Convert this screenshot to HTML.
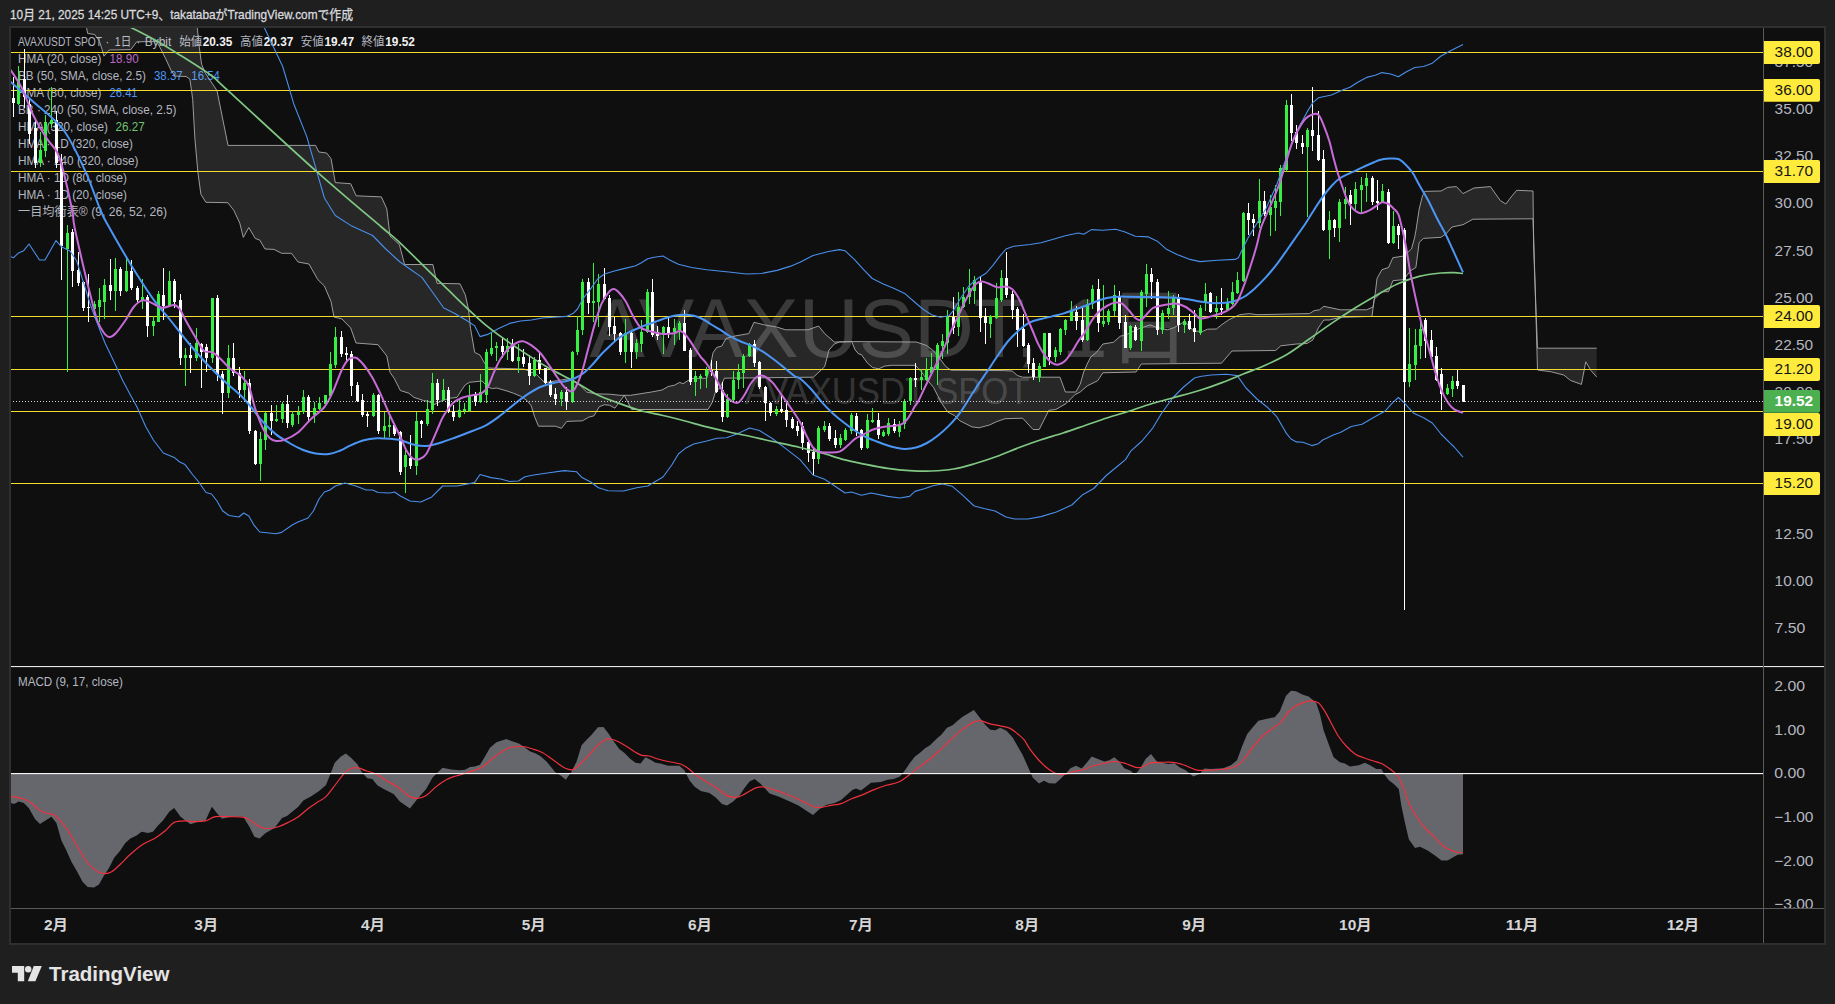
<!DOCTYPE html>
<html lang="ja"><head><meta charset="utf-8"><title>AVAXUSDT SPOT 1D chart</title>
<style>
html,body{margin:0;padding:0;background:#1f1f1f;}
body{width:1835px;height:1004px;overflow:hidden;font-family:"Liberation Sans", "Noto Sans CJK JP", sans-serif;}
svg{display:block;position:absolute;left:0;top:0;}
text{font-family:"Liberation Sans", "Noto Sans CJK JP", sans-serif;}
.ax{font-size:14.6px;fill:#b4b7c0;}
.lg{font-size:12px;fill:#b4b7c0;}
.tm{font-size:15px;font-weight:bold;fill:#d6d6d6;}
.yl{font-size:14px;fill:#141414;}
</style></head><body>
<svg width="1835" height="1004" viewBox="0 0 1835 1004">
<defs>
<clipPath id="cpMain"><rect x="11" y="28" width="1753" height="638"/></clipPath>
<clipPath id="cpMacd"><rect x="11" y="667" width="1753" height="241"/></clipPath>
<clipPath id="cpAxis"><rect x="1764" y="28" width="61" height="880"/></clipPath>
</defs>
<rect x="0" y="0" width="1835" height="1004" fill="#1f1f1f"/>
<rect x="9" y="26" width="1817" height="919" fill="#2f2f2f"/>
<rect x="11" y="28" width="1813" height="915" fill="#0f0f0f"/>
<text x="10" y="19" font-size="13" fill="#d8d9de" stroke="#d8d9de" stroke-width="0.3" textLength="343" lengthAdjust="spacingAndGlyphs">10月 21, 2025 14:25 UTC+9、takatabaがTradingView.comで作成</text>
<g clip-path="url(#cpMain)">
<text x="890.1" y="356.5" font-size="83" fill="#ffffff" fill-opacity="0.18" text-anchor="middle" textLength="601" lengthAdjust="spacingAndGlyphs">AVAXUSDT, 1日</text>
<text x="887" y="403.5" font-size="36" fill="#ffffff" fill-opacity="0.18" text-anchor="middle" textLength="285" lengthAdjust="spacingAndGlyphs">AVAXUSDT SPOT</text>
<text class="lg" x="18" y="45.5" textLength="84" lengthAdjust="spacingAndGlyphs">AVAXUSDT SPOT</text>
<text class="lg" x="105.6" y="45.5" textLength="3.8" lengthAdjust="spacingAndGlyphs">·</text>
<text class="lg" x="114.8" y="45.5" textLength="16.4" lengthAdjust="spacingAndGlyphs">1日</text>
<text class="lg" x="136.4" y="45.5" textLength="3.8" lengthAdjust="spacingAndGlyphs">·</text>
<text class="lg" x="144.8" y="45.5" textLength="26.5" lengthAdjust="spacingAndGlyphs">Bybit</text>
<text class="lg" x="179.3" y="45.5" textLength="23" lengthAdjust="spacingAndGlyphs">始値</text>
<text class="lg" x="202.7" y="45.5" textLength="29.6" lengthAdjust="spacingAndGlyphs" style="fill:#f2f2f2" font-weight="bold">20.35</text>
<text class="lg" x="240" y="45.5" textLength="23" lengthAdjust="spacingAndGlyphs">高値</text>
<text class="lg" x="263.7" y="45.5" textLength="29.6" lengthAdjust="spacingAndGlyphs" style="fill:#f2f2f2" font-weight="bold">20.37</text>
<text class="lg" x="300.7" y="45.5" textLength="23" lengthAdjust="spacingAndGlyphs">安値</text>
<text class="lg" x="324.4" y="45.5" textLength="29.6" lengthAdjust="spacingAndGlyphs" style="fill:#f2f2f2" font-weight="bold">19.47</text>
<text class="lg" x="361.6" y="45.5" textLength="23" lengthAdjust="spacingAndGlyphs">終値</text>
<text class="lg" x="385.3" y="45.5" textLength="29.6" lengthAdjust="spacingAndGlyphs" style="fill:#f2f2f2" font-weight="bold">19.52</text>
<text class="lg" x="18" y="63" textLength="83.5" lengthAdjust="spacingAndGlyphs">HMA (20, close)</text>
<text class="lg" x="109.6" y="63" textLength="29.1" lengthAdjust="spacingAndGlyphs" style="fill:#ba68c8">18.90</text>
<text class="lg" x="18" y="80" textLength="127.8" lengthAdjust="spacingAndGlyphs">BB (50, SMA, close, 2.5)</text>
<text class="lg" x="154" y="80" textLength="28.6" lengthAdjust="spacingAndGlyphs" style="fill:#4b95f4">38.37</text>
<text class="lg" x="191.3" y="80" textLength="28.5" lengthAdjust="spacingAndGlyphs" style="fill:#4b95f4">16.54</text>
<text class="lg" x="18" y="97" textLength="83.5" lengthAdjust="spacingAndGlyphs">HMA (80, close)</text>
<text class="lg" x="109.6" y="97" textLength="28" lengthAdjust="spacingAndGlyphs" style="fill:#4b95f4">26.41</text>
<text class="lg" x="18" y="114" textLength="158.4" lengthAdjust="spacingAndGlyphs">BB · 240 (50, SMA, close, 2.5)</text>
<text class="lg" x="18" y="131" textLength="89.8" lengthAdjust="spacingAndGlyphs">HMA (320, close)</text>
<text class="lg" x="115.5" y="131" textLength="29.2" lengthAdjust="spacingAndGlyphs" style="fill:#70c274">26.27</text>
<text class="lg" x="18" y="148" textLength="115" lengthAdjust="spacingAndGlyphs">HMA · 1D (320, close)</text>
<text class="lg" x="18" y="165" textLength="120.5" lengthAdjust="spacingAndGlyphs">HMA · 240 (320, close)</text>
<text class="lg" x="18" y="182" textLength="109" lengthAdjust="spacingAndGlyphs">HMA · 1D (80, close)</text>
<text class="lg" x="18" y="199" textLength="109" lengthAdjust="spacingAndGlyphs">HMA · 1D (20, close)</text>
<text class="lg" x="18" y="216" textLength="149" lengthAdjust="spacingAndGlyphs">一目均衡表® (9, 26, 52, 26)</text>
<polygon points="197.2,27 199.4,48 201.6,64.3 205.3,73.2 217,90.6 228,145.4 315.6,145.4 318.9,152 326.6,153 331,158.5 335.3,182.6 350.7,183.7 356.2,195.8 381.4,196.9 386.8,208.9 390,236 399.4,244.6 404.6,264.5 432.9,264.5 437,283.3 460,283.8 465.3,294.9 468.5,309.5 470.5,328.3 474.7,352.4 480,355 485,363.9 488.3,368 524,369 536.4,374.4 544.8,382.7 557.4,380.6 570,378.5 578.3,383.8 586.7,392 595,393.8 609.7,394.2 620,395.3 630.6,395.3 651.5,392 662,390 668.2,386.5 674.5,385.2 679.7,382.3 682.9,383.8 691.3,378.5 706.8,378.2 710,367 711.3,361.5 713,352.8 716.6,347.6 721.8,346 726,338.5 734.9,336 748.8,333.6 754,322.3 764.5,324.9 776.7,327 785.5,329.8 808,329.8 818.6,326 824.7,333.6 834.3,342 851.7,341.6 916.3,342 926.7,345.5 933.7,351 940.7,359.8 945.9,366.7 951,370.2 1003.5,370.6 1012.2,371 1017.4,375.5 1022.7,377.2 1060,377.2 1065.4,392 1075.9,392 1080.2,384.2 1083.7,372 1087.2,364 1090.7,357 1096.8,352 1102.9,344 1113.4,342.3 1120.3,336.2 1125.6,335 1138,329 1150,324.9 1157,327.5 1167.4,329.8 1174.4,327.5 1184.9,321.4 1193.6,331 1202.3,331.5 1207.5,329.2 1216.4,329 1222,324.5 1228.5,320 1239.5,314.7 1249.3,313.6 1257,314.7 1309.6,313.6 1314,310.7 1319.5,309.8 1323.8,306.3 1340.3,309.8 1366.6,309.8 1373,307 1375.3,292.8 1377,278.5 1381.9,269.7 1388.5,267.5 1392.9,257.7 1403.8,256 1411.5,249 1414.5,238 1415.9,230.8 1419.2,209 1422.5,195.8 1424.7,191.4 1441,191 1447.7,187.4 1456.4,186.6 1463,193.6 1474,188 1490.4,186.6 1500.3,200.6 1505.8,204 1511.2,196.9 1516.7,190.3 1533,191 1533.6,247 1537.5,348.2 1596.7,348.2 1596.7,377 1591,370.6 1585.8,361.8 1581.4,384.4 1570.4,380.4 1563.8,375 1550.7,371.7 1537.5,370 1534,247 1533,218.8 1472.9,219.2 1463,224.7 1452,227 1446,233.8 1441,237.3 1423.6,238.4 1419.2,242.3 1415.9,267.5 1410.4,270.8 1403.8,279.6 1392.9,280.7 1388.5,291.7 1381.9,291.7 1374.2,299.3 1372,316.4 1340.3,317.3 1329.3,320 1323.8,320 1318.4,327.8 1312.9,339.9 1307,343.5 1296.5,344 1280.8,345.8 1275.6,350.5 1232,351 1221.5,363.2 1141.3,364 1136,372 1102.9,372.8 1097.7,380.7 1087.2,385.9 1080.2,392 1075,394.6 1066.3,403.4 1055.8,409.5 1048.8,410.3 1039.2,429.5 1033,429.5 1022.7,418.2 1005,418.7 996.5,421.7 989.5,425 979,427.8 972,426.9 959.9,420.8 954.6,415.6 947.6,412 940.7,401.6 933.7,387.7 925,377 921.5,372 915.4,365.3 891.8,365.3 884.9,366 878.8,368.8 872.7,367.6 867.4,363 861.3,354.5 858.7,354 855.2,350 851.7,341.6 839.5,342 834.3,344 829,350 824.7,366.7 813.4,377.2 724.4,378.2 720,388 715.6,391.4 712.3,402.3 708,409.4 631.6,409.5 624.3,395.3 614.9,408.2 609.6,405.3 604.4,404.7 599.2,406.8 594,415.8 588.7,417.2 582.5,420.8 566.8,421.4 561.5,428.3 555.3,426.2 538.5,426.2 534.4,416.2 531.2,405.7 527,400.5 520.8,396.3 513.4,393.2 507,391 496.7,388 492.5,388.6 488.3,387.3 482,381 469.5,382.3 465.3,384.8 461,391 457,397.4 448.6,398.4 440.2,401.5 433.9,404.7 428.7,401.5 423.5,400.5 414,397.4 408.8,393.2 400.3,390.5 394.3,378.5 390,372.3 386.8,356 378,344.7 356,343 350.7,328 342,319 334,317 331,301.5 324.4,286 317.8,279.6 309,264 298,262 291.5,253.3 281.6,253.3 274,249.4 265,249 259.7,240 255.3,238.5 248.8,227.5 243.3,237.4 239.8,223.2 233.8,210.3 227.8,202.7 205.9,202.3 200.9,194.3 197.9,172.4 194.9,138.6 192.7,99.7 191.3,88.6 189.8,79 186.1,76.5 175.1,76.1 171.4,71 165.5,58.4 160,47.4 156.6,41.5 136.7,41.8 130.8,49.6 109.1,50 104,56.2 102.1,49.6 99.5,41.5 94.7,34.5 87.7,33.4 86.3,27" fill="#ffffff" fill-opacity="0.10" stroke="none"/>
<path d="M197.2 27 L199.4 48 L201.6 64.3 L205.3 73.2 L217 90.6 L228 145.4 L315.6 145.4 L318.9 152 L326.6 153 L331 158.5 L335.3 182.6 L350.7 183.7 L356.2 195.8 L381.4 196.9 L386.8 208.9 L390 236 L399.4 244.6 L404.6 264.5 L432.9 264.5 L437 283.3 L460 283.8 L465.3 294.9 L468.5 309.5 L470.5 328.3 L474.7 352.4 L480 355 L485 363.9 L488.3 368 L524 369 L536.4 374.4 L544.8 382.7 L557.4 380.6 L570 378.5 L578.3 383.8 L586.7 392 L595 393.8 L609.7 394.2 L620 395.3 L630.6 395.3 L651.5 392 L662 390 L668.2 386.5 L674.5 385.2 L679.7 382.3 L682.9 383.8 L691.3 378.5 L706.8 378.2 L710 367 L711.3 361.5 L713 352.8 L716.6 347.6 L721.8 346 L726 338.5 L734.9 336 L748.8 333.6 L754 322.3 L764.5 324.9 L776.7 327 L785.5 329.8 L808 329.8 L818.6 326 L824.7 333.6 L834.3 342 L851.7 341.6 L916.3 342 L926.7 345.5 L933.7 351 L940.7 359.8 L945.9 366.7 L951 370.2 L1003.5 370.6 L1012.2 371 L1017.4 375.5 L1022.7 377.2 L1060 377.2 L1065.4 392 L1075.9 392 L1080.2 384.2 L1083.7 372 L1087.2 364 L1090.7 357 L1096.8 352 L1102.9 344 L1113.4 342.3 L1120.3 336.2 L1125.6 335 L1138 329 L1150 324.9 L1157 327.5 L1167.4 329.8 L1174.4 327.5 L1184.9 321.4 L1193.6 331 L1202.3 331.5 L1207.5 329.2 L1216.4 329 L1222 324.5 L1228.5 320 L1239.5 314.7 L1249.3 313.6 L1257 314.7 L1309.6 313.6 L1314 310.7 L1319.5 309.8 L1323.8 306.3 L1340.3 309.8 L1366.6 309.8 L1373 307 L1375.3 292.8 L1377 278.5 L1381.9 269.7 L1388.5 267.5 L1392.9 257.7 L1403.8 256 L1411.5 249 L1414.5 238 L1415.9 230.8 L1419.2 209 L1422.5 195.8 L1424.7 191.4 L1441 191 L1447.7 187.4 L1456.4 186.6 L1463 193.6 L1474 188 L1490.4 186.6 L1500.3 200.6 L1505.8 204 L1511.2 196.9 L1516.7 190.3 L1533 191 L1533.6 247 L1537.5 348.2 L1596.7 348.2" fill="none" stroke="#a8a8a8" stroke-opacity="0.9" stroke-width="1"/>
<path d="M86.3 27 L87.7 33.4 L94.7 34.5 L99.5 41.5 L102.1 49.6 L104 56.2 L109.1 50 L130.8 49.6 L136.7 41.8 L156.6 41.5 L160 47.4 L165.5 58.4 L171.4 71 L175.1 76.1 L186.1 76.5 L189.8 79 L191.3 88.6 L192.7 99.7 L194.9 138.6 L197.9 172.4 L200.9 194.3 L205.9 202.3 L227.8 202.7 L233.8 210.3 L239.8 223.2 L243.3 237.4 L248.8 227.5 L255.3 238.5 L259.7 240 L265 249 L274 249.4 L281.6 253.3 L291.5 253.3 L298 262 L309 264 L317.8 279.6 L324.4 286 L331 301.5 L334 317 L342 319 L350.7 328 L356 343 L378 344.7 L386.8 356 L390 372.3 L394.3 378.5 L400.3 390.5 L408.8 393.2 L414 397.4 L423.5 400.5 L428.7 401.5 L433.9 404.7 L440.2 401.5 L448.6 398.4 L457 397.4 L461 391 L465.3 384.8 L469.5 382.3 L482 381 L488.3 387.3 L492.5 388.6 L496.7 388 L507 391 L513.4 393.2 L520.8 396.3 L527 400.5 L531.2 405.7 L534.4 416.2 L538.5 426.2 L555.3 426.2 L561.5 428.3 L566.8 421.4 L582.5 420.8 L588.7 417.2 L594 415.8 L599.2 406.8 L604.4 404.7 L609.6 405.3 L614.9 408.2 L624.3 395.3 L631.6 409.5 L708 409.4 L712.3 402.3 L715.6 391.4 L720 388 L724.4 378.2 L813.4 377.2 L824.7 366.7 L829 350 L834.3 344 L839.5 342 L851.7 341.6 L855.2 350 L858.7 354 L861.3 354.5 L867.4 363 L872.7 367.6 L878.8 368.8 L884.9 366 L891.8 365.3 L915.4 365.3 L921.5 372 L925 377 L933.7 387.7 L940.7 401.6 L947.6 412 L954.6 415.6 L959.9 420.8 L972 426.9 L979 427.8 L989.5 425 L996.5 421.7 L1005 418.7 L1022.7 418.2 L1033 429.5 L1039.2 429.5 L1048.8 410.3 L1055.8 409.5 L1066.3 403.4 L1075 394.6 L1080.2 392 L1087.2 385.9 L1097.7 380.7 L1102.9 372.8 L1136 372 L1141.3 364 L1221.5 363.2 L1232 351 L1275.6 350.5 L1280.8 345.8 L1296.5 344 L1307 343.5 L1312.9 339.9 L1318.4 327.8 L1323.8 320 L1329.3 320 L1340.3 317.3 L1372 316.4 L1374.2 299.3 L1381.9 291.7 L1388.5 291.7 L1392.9 280.7 L1403.8 279.6 L1410.4 270.8 L1415.9 267.5 L1419.2 242.3 L1423.6 238.4 L1441 237.3 L1446 233.8 L1452 227 L1463 224.7 L1472.9 219.2 L1533 218.8 L1534 247 L1537.5 370 L1550.7 371.7 L1563.8 375 L1570.4 380.4 L1581.4 384.4 L1585.8 361.8 L1591 370.6 L1596.7 377" fill="none" stroke="#a8a8a8" stroke-opacity="0.9" stroke-width="1"/>
<rect x="11" y="52" width="1753" height="1" fill="#f3dc2e"/>
<rect x="11" y="90" width="1753" height="1" fill="#f3dc2e"/>
<rect x="11" y="171" width="1753" height="1" fill="#f3dc2e"/>
<rect x="11" y="316" width="1753" height="1" fill="#f3dc2e"/>
<rect x="11" y="369" width="1753" height="1" fill="#f3dc2e"/>
<rect x="11" y="411" width="1753" height="1" fill="#f3dc2e"/>
<rect x="11" y="483" width="1753" height="1" fill="#f3dc2e"/>
<path d="M18.5 66 V104.6M40.5 132 V167M45.5 114.5 V157M51.5 87 V127.6M67.5 225 V371.7M94.5 301 V318M99.5 288 V322.3M104.5 279 V318.6M115.5 258 V311.4M126.5 256 V292.3M142.5 279 V309M153.5 315.8 V336M158.5 291 V322.3M169.5 270.8 V307M185.5 347.5 V386M196.5 327.8 V361M212.5 297.6 V363M228.5 345 V398M244.5 370.6 V401M260.5 432 V481M265.5 411.5 V449.7M276.5 405 V421.6M282.5 402 V423M292.5 410.7 V426.5M298.5 405.6 V424M303.5 389.6 V414.4M314.5 402 V423M319.5 396.9 V410M325.5 394.7 V404.5M330.5 352 V397M335.5 326.7 V368.4M373.5 393 V416.6M384.5 412 V438M389.5 416 V437M405.5 450 V492.5M416.5 412 V475M427.5 400 V425.5M432.5 372.8 V413.7M443.5 379 V401M459.5 399 V417.7M464.5 403.4 V414.4M469.5 384.8 V411.5M480.5 373.8 V403.4M486.5 349 V403.4M491.5 333 V356M496.5 341.6 V360.7M507.5 337.7 V360M518.5 344 V373.4M534.5 357.4 V377M561.5 390 V405.6M572.5 350.8 V402.5M577.5 315.8 V355.2M582.5 279 V334.8M593.5 263 V322.3M598.5 274 V326.7M625.5 319 V363M636.5 339 V359M641.5 320 V351.5M647.5 289 V333.3M663.5 325.6 V353.7M674.5 319 V345M679.5 321 V340M695.5 371 V395.8M700.5 374 V389M706.5 367 V388M727.5 393.6 V418M733.5 370.6 V400.6M738.5 364 V389M743.5 354 V388M749.5 343 V357.4M776.5 405.6 V416M818.5 425.6 V463.5M824.5 420.6 V432M840.5 434.4 V448M845.5 427.8 V440.5M851.5 413 V434.4M867.5 414 V449M872.5 408 V423.4M883.5 430 V437M888.5 418 V435.5M899.5 421 V436.6M904.5 399 V428.5M910.5 377 V405M921.5 369 V389.6M926.5 358 V381M931.5 353 V373.4M937.5 343 V384.8M942.5 334.4 V358.5M947.5 310 V354M958.5 292.3 V335.5M963.5 286.6 V308M969.5 268.6 V303.7M974.5 276 V303.7M990.5 314.7 V337.7M996.5 283 V319M1001.5 270 V301.5M1039.5 363 V381.5M1044.5 333 V367.3M1055.5 347 V361.8M1060.5 328.3 V355M1065.5 319 V334.8M1071.5 301 V321.3M1087.5 299 V340.5M1092.5 285 V309M1103.5 285 V326.7M1108.5 309 V324.5M1114.5 285 V315.8M1130.5 325 V350M1141.5 290 V350.8M1146.5 264.3 V307M1162.5 310 V334M1168.5 291 V319M1173.5 295.4 V314.7M1184.5 318.6 V333.3M1200.5 305 V335M1205.5 283 V311.4M1216.5 296 V318.6M1227.5 298 V310.3M1232.5 281.8 V304.8M1237.5 272 V293.9M1243.5 212 V281.8M1259.5 178.7 V227.5M1270.5 195 V236M1275.5 185 V231M1280.5 165 V215.5M1286.5 100 V171.7M1307.5 127.8 V216.6M1329.5 211 V258.8M1339.5 199 V241.8M1345.5 187 V218.8M1355.5 182 V210M1361.5 177 V213M1366.5 173.4 V202M1382.5 184.4 V203M1393.5 211 V244M1409.5 327.8 V387M1415.5 329 V380M1420.5 314.7 V359M1447.5 383.7 V395.3M1452.5 376 V396.9" stroke="#36f044" stroke-width="1" fill="none" shape-rendering="crispEdges"/>
<path d="M17 79h3v25h-3zM39 150h3v13h-3zM44 122h3v29h-3zM50 120h3v4h-3zM66 233h3v16h-3zM93 304h3v5h-3zM98 300h3v7h-3zM103 285h3v17h-3zM114 269h3v22h-3zM125 271h3v20h-3zM141 297h3v3h-3zM152 321h3v5h-3zM157 294h3v28h-3zM168 281h3v25h-3zM184 355h3v3h-3zM195 343h3v15h-3zM211 298h3v60h-3zM227 358h3v35h-3zM243 383h3v7h-3zM259 439h3v25h-3zM264 413h3v27h-3zM275 419h3v2h-3zM281 404h3v15h-3zM291 414h3v11h-3zM297 412h3v3h-3zM302 397h3v15h-3zM313 408h3v7h-3zM318 403h3v6h-3zM324 395h3v9h-3zM329 364h3v32h-3zM334 337h3v28h-3zM372 395h3v21h-3zM383 426h3v5h-3zM388 425h3v2h-3zM404 455h3v12h-3zM415 421h3v45h-3zM426 409h3v15h-3zM431 383h3v27h-3zM442 390h3v10h-3zM458 410h3v7h-3zM463 409h3v2h-3zM468 395h3v16h-3zM479 392h3v10h-3zM485 352h3v43h-3zM490 348h3v6h-3zM495 346h3v2h-3zM506 346h3v6h-3zM517 357h3v4h-3zM533 360h3v16h-3zM560 392h3v7h-3zM571 352h3v50h-3zM576 330h3v22h-3zM581 282h3v48h-3zM592 301h3v2h-3zM597 284h3v18h-3zM624 333h3v19h-3zM635 343h3v9h-3zM640 332h3v12h-3zM646 292h3v40h-3zM662 327h3v8h-3zM673 328h3v4h-3zM678 323h3v7h-3zM694 376h3v6h-3zM699 376h3v2h-3zM705 370h3v6h-3zM726 399h3v18h-3zM732 380h3v20h-3zM737 372h3v8h-3zM742 356h3v17h-3zM748 344h3v12h-3zM775 409h3v5h-3zM817 428h3v31h-3zM823 426h3v4h-3zM839 438h3v7h-3zM844 430h3v10h-3zM850 415h3v16h-3zM866 420h3v28h-3zM871 420h3v2h-3zM882 432h3v4h-3zM887 423h3v11h-3zM898 424h3v8h-3zM903 401h3v23h-3zM909 378h3v23h-3zM920 377h3v3h-3zM925 370h3v10h-3zM930 367h3v6h-3zM936 345h3v25h-3zM941 341h3v5h-3zM946 317h3v26h-3zM957 307h3v20h-3zM962 297h3v10h-3zM968 288h3v9h-3zM973 280h3v11h-3zM989 316h3v8h-3zM995 298h3v20h-3zM1000 278h3v22h-3zM1038 366h3v11h-3zM1043 333h3v34h-3zM1054 350h3v7h-3zM1059 329h3v23h-3zM1064 320h3v10h-3zM1070 311h3v10h-3zM1086 304h3v36h-3zM1091 289h3v15h-3zM1102 321h3v3h-3zM1107 311h3v11h-3zM1113 295h3v16h-3zM1129 326h3v22h-3zM1140 292h3v49h-3zM1145 274h3v20h-3zM1161 313h3v17h-3zM1167 308h3v6h-3zM1172 298h3v10h-3zM1183 321h3v4h-3zM1199 308h3v25h-3zM1204 294h3v9h-3zM1215 308h3v4h-3zM1226 303h3v7h-3zM1231 292h3v12h-3zM1236 280h3v13h-3zM1242 213h3v68h-3zM1258 201h3v22h-3zM1269 207h3v8h-3zM1274 201h3v7h-3zM1279 168h3v34h-3zM1285 105h3v65h-3zM1306 130h3v17h-3zM1328 220h3v10h-3zM1338 202h3v26h-3zM1344 199h3v5h-3zM1354 189h3v15h-3zM1360 185h3v5h-3zM1365 178h3v8h-3zM1381 191h3v11h-3zM1392 226h3v17h-3zM1408 364h3v18h-3zM1414 345h3v20h-3zM1419 329h3v17h-3zM1446 388h3v6h-3zM1451 381h3v8h-3z" fill="#36f044" shape-rendering="crispEdges"/>
<path d="M13.5 77 V116.7M24.5 48.8 V108M29.5 98 V144M35.5 119 V168M56.5 111 V168M61.5 154 V279.6M72.5 229 V286.6M78.5 252 V285.7M83.5 281 V311.4M88.5 274 V322.3M110.5 258.8 V300.4M120.5 267 V296M131.5 259.9 V290M137.5 285.7 V302M147.5 295 V337M163.5 267.5 V320M174.5 278.5 V308M180.5 293.8 V364.6M190.5 343 V373.4M201.5 343 V388M206.5 344 V371.7M217.5 295 V381M222.5 370.6 V414M233.5 343 V375.6M239.5 366.8 V397.5M249.5 378.7 V433.7M255.5 430 V465M271.5 405 V435M287.5 395 V428M308.5 394.7 V422M341.5 331 V357.4M346.5 347 V361M351.5 350.8 V396M357.5 382 V402M362.5 394 V417M367.5 411 V426.5M378.5 393.6 V434M394.5 423 V436M400.5 431 V475M410.5 435 V469M421.5 420 V437.7M437.5 379 V405.6M448.5 387 V413M453.5 405 V421M475.5 391.8 V406.3M502.5 338 V358M512.5 338.8 V361.5M523.5 348.6 V367M529.5 354.6 V384.8M539.5 353 V373.8M545.5 368 V383.5M550.5 380.4 V396.9M555.5 388 V405M566.5 387 V410M588.5 277.8 V313.6M604.5 268 V300M609.5 295 V335.5M614.5 316.9 V340.5M620.5 332 V355.2M631.5 332 V367.7M652.5 279 V337M657.5 326 V340M668.5 316.4 V337.7M684.5 310 V351M690.5 348 V384.8M711.5 359.6 V376M716.5 361 V392.5M722.5 381.5 V422M754.5 339.9 V367M759.5 361 V389M765.5 386 V421M770.5 402 V416M781.5 394.7 V412.9M786.5 401 V426.9M792.5 417 V429M797.5 421 V436M802.5 422 V449.7M808.5 440 V461.8M813.5 448.6 V475M829.5 422.8 V441M835.5 430 V447.5M856.5 413 V435.5M861.5 429 V450.4M878.5 413 V438.8M894.5 419 V432.9M915.5 362.9 V386.6M953.5 296.7 V334.4M980.5 277 V332M985.5 307.7 V344M1006.5 252 V298M1012.5 290.6 V319M1017.5 307 V347M1023.5 314 V347M1028.5 342.7 V372.8M1033.5 358 V380M1049.5 333 V365M1076.5 306 V330M1082.5 305.5 V342M1098.5 279 V331.8M1119.5 291 V329M1125.5 315 V348M1135.5 325 V341M1151.5 267.5 V298.9M1157.5 279 V334.8M1178.5 293.8 V331.8M1189.5 313.6 V329.6M1194.5 309.8 V342M1210.5 291.7 V313M1221.5 288 V314.7M1248.5 203 V235M1253.5 214.4 V236M1264.5 191 V215.5M1291.5 93.8 V140.5M1296.5 125 V149M1302.5 134.8 V154M1312.5 86.6 V150.8M1318.5 110.7 V160.5M1323.5 150 V231M1334.5 219 V237.4M1350.5 190 V225M1372.5 175.6 V205M1377.5 180.4 V210M1388.5 189 V244.4M1398.5 223.8 V249M1404.5 228 V610M1425.5 318 V358M1431.5 330 V357.4M1436.5 347 V381M1441.5 368.4 V410M1457.5 369.9 V388.7M1463.5 384.5 V402.2" stroke="#ffffff" stroke-width="1" fill="none" shape-rendering="crispEdges"/>
<path d="M12 98h3v5h-3zM23 79h3v18h-3zM28 104h3v30h-3zM34 128h3v35h-3zM55 120h3v43h-3zM60 163h3v83h-3zM71 232h3v39h-3zM77 270h3v13h-3zM82 282h3v26h-3zM87 307h3v1h-3zM109 285h3v6h-3zM119 269h3v22h-3zM130 271h3v17h-3zM136 288h3v12h-3zM146 297h3v29h-3zM162 295h3v11h-3zM173 281h3v21h-3zM179 300h3v58h-3zM189 355h3v3h-3zM200 344h3v8h-3zM205 347h3v11h-3zM216 298h3v77h-3zM221 374h3v19h-3zM232 358h3v15h-3zM238 373h3v17h-3zM248 383h3v48h-3zM254 431h3v33h-3zM270 413h3v8h-3zM286 404h3v19h-3zM307 397h3v20h-3zM340 337h3v17h-3zM345 353h3v2h-3zM350 354h3v32h-3zM356 385h3v16h-3zM361 400h3v15h-3zM366 414h3v2h-3zM377 395h3v36h-3zM393 425h3v9h-3zM399 432h3v40h-3zM409 458h3v8h-3zM420 421h3v3h-3zM436 383h3v17h-3zM447 390h3v21h-3zM452 411h3v6h-3zM474 395h3v7h-3zM501 346h3v6h-3zM511 346h3v15h-3zM522 357h3v7h-3zM528 363h3v13h-3zM538 360h3v9h-3zM544 368h3v15h-3zM549 382h3v13h-3zM554 394h3v5h-3zM565 392h3v10h-3zM587 282h3v21h-3zM603 284h3v15h-3zM608 298h3v29h-3zM613 326h3v8h-3zM619 333h3v19h-3zM630 333h3v19h-3zM651 292h3v43h-3zM656 332h3v4h-3zM667 327h3v7h-3zM683 323h3v28h-3zM689 350h3v32h-3zM710 370h3v2h-3zM715 371h3v21h-3zM721 390h3v27h-3zM753 344h3v19h-3zM758 362h3v25h-3zM764 387h3v16h-3zM769 403h3v10h-3zM780 409h3v2h-3zM785 410h3v10h-3zM791 419h3v9h-3zM796 426h3v5h-3zM801 426h3v17h-3zM807 442h3v11h-3zM812 452h3v7h-3zM828 426h3v13h-3zM834 438h3v7h-3zM855 416h3v15h-3zM860 430h3v18h-3zM877 420h3v15h-3zM893 424h3v7h-3zM914 378h3v2h-3zM952 317h3v11h-3zM979 281h3v37h-3zM984 316h3v7h-3zM1005 278h3v17h-3zM1011 294h3v16h-3zM1016 309h3v21h-3zM1022 329h3v17h-3zM1027 345h3v19h-3zM1032 363h3v14h-3zM1048 333h3v24h-3zM1075 312h3v9h-3zM1081 320h3v20h-3zM1097 289h3v34h-3zM1118 296h3v27h-3zM1124 322h3v26h-3zM1134 327h3v13h-3zM1150 274h3v8h-3zM1156 282h3v48h-3zM1177 298h3v27h-3zM1188 321h3v8h-3zM1193 328h3v4h-3zM1209 293h3v19h-3zM1220 308h3v2h-3zM1247 213h3v7h-3zM1252 219h3v4h-3zM1263 201h3v13h-3zM1290 105h3v28h-3zM1295 132h3v11h-3zM1301 143h3v4h-3zM1311 130h3v6h-3zM1317 135h3v25h-3zM1322 159h3v71h-3zM1333 220h3v8h-3zM1349 195h3v9h-3zM1371 178h3v24h-3zM1376 201h3v2h-3zM1387 192h3v51h-3zM1397 226h3v9h-3zM1403 230h3v152h-3zM1424 320h3v21h-3zM1430 340h3v17h-3zM1435 356h3v24h-3zM1440 374h3v20h-3zM1456 381h3v5h-3zM1462 385h3v17h-3z" fill="#ffffff" shape-rendering="crispEdges"/>
<path d="M264 27 L282.7 66.5 L293.7 103.7 L306.8 136.6 L315.6 167.3 L324.4 198 L335.3 215.5 L350.7 225.4 L372.6 235.5 L385.8 249 L400 262 L411 269.7 L421.9 277.4 L432.9 292.8 L443.8 308 L454.8 313.6 L465.8 320 L474.5 325.6 L480 336.6 L487.7 334.4 L498.6 328.5 L509.6 323.4 L520.5 321 L531.5 320 L542.5 318 L553.4 317.3 L566.6 316.4 L573 313.6 L577.5 309 L582 300.5 L585 296 L590 289.6 L597.7 279 L604 274.2 L613.4 271.3 L623.8 268.6 L635 266 L641 263 L647.7 258.8 L654.2 257.2 L663 256 L669.6 259.9 L678.4 264.3 L691.5 267.5 L706.8 269.7 L728.8 272 L746.3 274 L761.6 273.5 L777 270.4 L790 266.4 L800 262.3 L813 255.5 L828.5 251.5 L839.5 249.6 L845 250.7 L854.8 259.9 L863.6 269.7 L872.3 278.5 L883.3 284 L894.2 288.4 L905.2 293.8 L914 301.5 L922.7 309 L931.5 314.7 L940.3 317.3 L949 315.8 L953.4 310.3 L960 299.3 L968.8 286 L977.5 278.5 L986.3 273 L992.9 265.4 L999.5 256.6 L1006 249 L1013.7 246.3 L1030 244.5 L1041 242.8 L1054.2 239 L1065.2 235.8 L1078.4 233 L1083.8 234.2 L1091.5 229.6 L1102.5 230.3 L1115.6 229.2 L1124.4 231.8 L1135.3 236.2 L1148.5 236.9 L1157.3 241.2 L1166 248.9 L1177 254.4 L1190 259.4 L1200 261.6 L1217.5 260.3 L1235 259.4 L1238.4 257.7 L1243 248 L1248 238 L1254 228 L1265.8 209 L1276.7 184.8 L1287.7 154 L1298.6 127.8 L1307.4 111.4 L1312.9 102.6 L1318.4 97.8 L1331.5 95 L1342.5 90 L1350 87.3 L1357.8 82.2 L1366.6 77.4 L1375.3 75.2 L1382 72.6 L1390.7 74 L1398.4 76.8 L1406 72 L1414.8 67.5 L1423.6 66.5 L1432.3 63.2 L1441 56 L1452 50 L1463 44.5" fill="none" stroke="#4a8fea" stroke-width="1.1" stroke-linejoin="round"/>
<path d="M10.5 256.6 L13.6 257.7 L18 253.3 L23.7 250.7 L29 244 L39.5 260 L45 260 L56 240.6 L61.4 246.7 L70 251 L76.7 261 L83.3 281.8 L90 303.7 L96.4 321 L105 343 L114 361.8 L122.7 380.4 L131.5 396.9 L137 407 L145.8 426.7 L153.4 440 L163.3 453 L174.2 457.4 L179.7 462 L185 464.6 L192.9 475 L198.4 481.5 L206 492.5 L211.5 494 L217 501 L222.5 510.7 L229 515.5 L238.9 517 L243.7 513 L248.8 516 L254.2 525.4 L259.7 532 L276 533.7 L281.6 532.4 L292.6 524.7 L298 522 L308 518 L313.4 511 L319 499 L324.4 492 L329.9 490 L335.3 486 L345 483 L356 486 L366 490 L372.6 490 L378 492.5 L390 493 L394.5 492 L400 495.8 L409.9 501 L420.8 502 L431.8 496.9 L442.7 486 L457 486 L474.5 482.6 L480 474.5 L491 477.6 L500.8 479 L509.6 481.5 L518.4 481 L524.9 476.7 L533.7 475 L549 472.8 L564.4 470.6 L576.4 471.7 L582 477.6 L590.7 482 L598.4 487.7 L608.2 490.7 L623.6 491 L636.7 487.7 L647.7 486 L663 477 L671.8 465 L678.4 454 L685 448.6 L693.7 444 L706.8 441 L716.7 438.3 L726.6 437.7 L737.5 433.7 L749.6 428 L759.5 430.5 L772.6 438.8 L785.8 448.6 L800 459.6 L813 475 L824 478.9 L832.9 484.8 L845 493 L851.5 492 L861.4 495.3 L871.2 493 L887.7 496.4 L899.7 498 L909.6 496.4 L915 491.4 L925 488.5 L933.7 485.5 L942.5 484 L952.3 486.3 L962 494.7 L974.2 506 L984 508.5 L995 511 L1006 517 L1014.8 519 L1028 519 L1041 516.6 L1056.4 512 L1071.8 505 L1082.7 494.7 L1093.7 488.5 L1106.8 475 L1117.8 466 L1125.5 459.6 L1131 450.8 L1142 441 L1152.9 427.8 L1161.6 413.3 L1172.6 398 L1183.6 387 L1194.5 378 L1200 376.5 L1211 375 L1226.3 374.3 L1237.3 375.6 L1246 388 L1257 399 L1268 407.8 L1276.7 416.6 L1283.3 428 L1286.6 433.6 L1291 439 L1296.4 441.9 L1303 442.3 L1311.8 445.6 L1318.4 443.7 L1322.7 440 L1327 438 L1333.7 434.7 L1340.3 432.6 L1351.2 426.5 L1362 424.3 L1375.3 416.6 L1385.2 411 L1392.9 402.3 L1398.4 397.5 L1403.8 402.3 L1413.7 413.3 L1423.6 417.7 L1432.3 423 L1441 434 L1449.9 442.9 L1454.2 447 L1463 457.2" fill="none" stroke="#4a8fea" stroke-width="1.1" stroke-linejoin="round"/>
<path d="M130.1 27C134 29.1 146.1 35 153.7 39.3C161.3 43.5 166.4 46.6 175.8 52.5C185.2 58.4 201.3 68.2 210 74.6C218.7 80.9 210.4 74.6 228 90.6C245.6 106.6 290 147.9 315.6 170.6C341.2 193.3 367.3 215 381.4 227C395.5 239 389.6 233 400 242.8C410.4 252.6 429.2 271.7 443.8 285.7C458.4 299.7 473.1 314.8 487.7 326.7C502.3 338.6 520.5 350.1 531.5 357.4C542.5 364.7 546.1 366.5 553.4 370.6C560.7 374.7 568 378 575.3 382C582.6 386 590 391.1 597.3 394.7C604.6 398.3 611.9 400.7 619.2 403.4C626.5 406.1 633.7 408.7 641 410.7C648.3 412.7 655.7 413.8 663 415.5C670.3 417.2 677.7 419.1 685 421C692.3 422.9 699.5 425.1 706.8 426.9C714.1 428.7 721.5 430.4 728.8 432C736.1 433.6 743.4 434.9 750.7 436.5C758 438.1 764.4 439.7 772.6 441.5C780.8 443.3 791.8 445.6 800 447.5C808.2 449.4 814.7 451 822 453C829.3 455 836.5 457.7 843.8 459.6C851.1 461.5 858.5 462.9 865.8 464.4C873.1 465.9 880.4 467.4 887.7 468.4C895 469.4 902.3 470.2 909.6 470.6C916.9 471 924.2 471.3 931.5 471C938.8 470.7 946.1 470.2 953.4 469C960.7 467.8 968 465.6 975.3 463.5C982.6 461.4 990 459 997.3 456.3C1004.6 453.6 1011.9 450.3 1019.2 447.5C1026.5 444.7 1033.7 442.1 1041 439.7C1048.3 437.3 1055.7 435.4 1063 433C1070.3 430.6 1077.7 428 1085 425.5C1092.3 423 1099.5 420.4 1106.8 418C1114.1 415.6 1121.5 413.5 1128.8 411.2C1136.1 408.9 1143.4 406.2 1150.7 404C1158 401.8 1164.4 400.3 1172.6 398C1180.8 395.7 1191.8 392.9 1200 390.3C1208.2 387.7 1214.7 385.4 1222 382.6C1229.3 379.9 1236.5 376.7 1243.8 373.8C1251.1 370.9 1258.5 368.3 1265.8 365C1273.1 361.7 1280.4 358.4 1287.7 354C1295 349.6 1302.3 343.9 1309.6 338.8C1316.9 333.7 1324.2 328.4 1331.5 323.4C1338.8 318.4 1346.1 313.6 1353.4 309C1360.7 304.4 1368 300.2 1375.3 296C1382.6 291.8 1390 287.3 1397.3 284C1404.6 280.7 1411.9 278.1 1419.2 276.3C1426.5 274.5 1435.2 273.6 1441 273C1446.8 272.4 1450.5 272.5 1454.2 272.6C1457.9 272.7 1461.5 273.4 1463 273.5" fill="none" stroke="#81c784" stroke-width="1.7" stroke-linejoin="round"/>
<path d="M10.5 81.8C14.2 85.1 24.2 93.5 33 101.5C41.8 109.5 54.8 118.3 63.5 130C72.2 141.7 79.3 158.2 85.5 171.7C91.7 185.2 96.9 201.8 100.8 211C104.7 220.2 105.3 220.3 109 227C112.7 233.7 118.2 243.3 122.7 251C127.2 258.7 130.9 264.9 136 273C141.1 281.1 147.6 291.3 153.4 299.3C159.2 307.3 165.2 313.7 171 321C176.8 328.3 182.7 336 188.5 343C194.3 350 200.2 356.8 206 363C211.8 369.2 217.8 374.9 223.6 380.4C229.4 385.9 236.4 391.4 241 395.8C245.6 400.2 247.3 402.6 251 407C254.7 411.4 258.8 417.4 263 422C267.2 426.6 271.6 430.9 276 434.4C280.4 437.9 284.9 440.4 289.3 443C293.7 445.6 298.1 447.9 302.5 449.7C306.9 451.4 311.2 452.8 315.6 453.5C320 454.2 324.8 454.4 328.8 454C332.8 453.6 336.1 452.2 339.7 450.8C343.3 449.4 346.7 447.1 350.7 445.4C354.7 443.6 359.4 441.5 363.8 440.3C368.2 439.1 372.6 438.6 377 438.3C381.4 438.1 386.2 438.5 390 438.8C393.8 439.1 396.2 439.1 400 440C403.8 440.9 408.6 443.4 413 444.4C417.4 445.4 421.9 446.2 426.3 446C430.7 445.8 434.8 444.4 439.5 443C444.2 441.6 449.3 439.7 454.8 437.7C460.3 435.7 467.2 433 472.3 431C477.4 429 481.1 428 485.5 425.6C489.9 423.2 493.9 420.4 498.6 416.9C503.4 413.4 509.3 408.2 514 404.5C518.7 400.8 522.6 397.6 527 394.7C531.4 391.8 535.9 388.9 540.3 387C544.7 385.1 549 384 553.4 383C557.8 382 563 381.8 566.6 381C570.2 380.2 572.4 379.4 575.3 378C578.2 376.6 581.1 375.1 584 372.8C586.9 370.5 590 367.1 592.9 364C595.8 360.9 598.7 357.1 601.6 354C604.5 350.9 607.5 348.1 610.4 345.4C613.3 342.7 615.9 340 619.2 337.7C622.5 335.4 626.4 333.6 630 331.8C633.6 330 637.3 328.5 641 327C644.7 325.5 648.3 324.3 652 323C655.7 321.7 659.3 320.2 663 319C666.7 317.8 670.3 316.5 674 315.8C677.7 315.1 681.7 314.7 685 314.7C688.3 314.7 690.8 315.1 693.7 315.8C696.6 316.5 699.6 317.6 702.5 319C705.4 320.4 708.3 322.7 711.2 324.5C714.1 326.3 717.1 327.8 720 329.6C722.9 331.4 725.5 333.6 728.8 335.5C732.1 337.4 736.1 339.4 739.7 341C743.4 342.6 747.1 343.8 750.7 345.4C754.4 347 758 348.6 761.6 350.8C765.2 353 768.9 355.8 772.6 358.5C776.3 361.2 780 364.4 783.6 367.3C787.2 370.2 791.8 374.1 794.5 376C797.2 377.9 797.2 376.3 800 378.5C802.8 380.7 807.3 385 811 389C814.7 393 818.4 398.2 822 402.3C825.6 406.4 829.3 410.1 832.9 413.5C836.5 416.9 840.1 419.7 843.8 422.5C847.4 425.3 851.1 428.1 854.8 430.5C858.5 432.9 862.1 435.2 865.8 437C869.4 438.8 873.1 440.1 876.7 441.5C880.4 442.9 884.4 444.4 887.7 445.5C891 446.6 893.5 447.2 896.4 447.8C899.3 448.4 901.9 449.1 905.2 449C908.5 448.9 912.4 448.5 916 447.5C919.6 446.5 923.3 445 927 443C930.7 441 934.3 438.4 938 435.5C941.7 432.6 945.7 428.9 949 425.6C952.3 422.3 955.2 419 957.8 415.8C960.4 412.6 961.5 410.8 964.4 406.3C967.3 401.8 971.6 394.6 975.3 389C978.9 383.4 982.6 378.2 986.3 372.8C990 367.4 993.6 361.6 997.3 356.3C1000.9 351 1004.6 345.4 1008.2 341C1011.9 336.6 1015.6 333.1 1019.2 330C1022.8 326.9 1026.4 324.1 1030 322.3C1033.6 320.5 1037.3 320 1041 319C1044.7 318 1048.3 317.3 1052 316.4C1055.7 315.5 1059.3 314.7 1063 313.6C1066.7 312.5 1070.3 311.1 1074 309.8C1077.7 308.5 1081.3 307.4 1085 306C1088.7 304.6 1092.3 302.8 1095.9 301.5C1099.5 300.2 1103.2 298.8 1106.8 298C1110.4 297.2 1114.1 296.9 1117.8 296.7C1121.5 296.5 1123.3 296.6 1128.8 296.7C1134.3 296.8 1143.4 296.9 1150.7 297C1158 297.1 1166.8 297.3 1172.6 297.6C1178.4 297.9 1181.2 298.2 1185.8 298.9C1190.4 299.5 1195.8 300.8 1200 301.5C1204.2 302.2 1207.3 302.8 1211 303C1214.7 303.2 1218.3 303.2 1222 303C1225.7 302.8 1229.3 302.5 1232.9 301.5C1236.5 300.5 1240.2 299.2 1243.8 297C1247.4 294.8 1251.1 291.7 1254.8 288.4C1258.5 285.1 1262.1 281.4 1265.8 277.4C1269.5 273.4 1273 269 1276.7 264.3C1280.4 259.6 1284.4 253.6 1287.7 249C1291 244.4 1293.5 240.7 1296.4 236.5C1299.3 232.3 1302.3 228.4 1305.2 224C1308.1 219.6 1311.1 214.5 1314 210C1316.9 205.5 1319.8 200.9 1322.7 196.9C1325.6 192.9 1328.6 189.2 1331.5 186C1334.4 182.8 1336.6 180.4 1340.3 178C1344 175.6 1349 173.8 1353.4 171.7C1357.8 169.6 1362.2 167.4 1366.6 165.5C1371 163.6 1375.7 161.2 1379.7 160C1383.7 158.8 1387.6 158.7 1390.7 158.5C1393.8 158.3 1396 158.1 1398.4 159C1400.8 159.9 1402.6 161.7 1405 164C1407.4 166.3 1410.2 169.3 1412.6 172.8C1415 176.3 1416.6 180.3 1419.2 184.8C1421.8 189.3 1425.1 194.5 1428 200C1430.9 205.5 1433.8 212 1436.7 217.7C1439.6 223.4 1443 228.9 1445.5 234C1448 239.1 1449.1 241.6 1452 248C1454.9 254.4 1461.2 268.3 1463 272.4" fill="none" stroke="#4b95f4" stroke-width="2" stroke-linejoin="round"/>
<path d="M10.5 69.7C12.4 72.8 18.2 80.9 22 88.4C25.8 95.9 28.8 106.3 33 114.7C37.2 123.1 43 132.6 47 138.8C51 145 54.2 146.5 57 152C59.8 157.5 61 161.9 63.5 171.7C66 181.5 70.5 201.8 72.3 211C74.1 220.2 72.5 217 74.5 227C76.5 237 81.5 258.4 84.4 270.8C87.3 283.2 89.8 293.1 92 301.5C94.2 309.9 95.5 315.8 97.5 321C99.5 326.2 102 330.3 104 333C106 335.7 107.6 337 109.6 337C111.6 337 113.4 335.7 116 333C118.6 330.3 122 325.3 125 321C128 316.7 130.8 310.4 133.7 307C136.6 303.6 139.6 301.1 142.5 300.4C145.4 299.7 147.8 301.4 151 302.6C154.2 303.8 158.2 307.3 162 307.7C165.8 308.1 171.1 304.8 174 305C176.9 305.2 177.7 306.3 179.7 309C181.7 311.7 183.4 316.4 186 321C188.6 325.6 192 331.6 195 336.6C198 341.6 201.1 348.2 203.8 350.8C206.6 353.4 209 350.9 211.5 352C214 353.1 215.9 354.7 219 357.4C222.1 360.1 226.3 365.3 230 368.4C233.7 371.5 237.9 373.1 241 376C244.1 378.9 246.5 380.7 248.8 386C251.1 391.3 252.6 400.9 255 408C257.4 415.1 260.6 423.6 263 428.6C265.4 433.6 267.4 435.9 269.6 438C271.8 440.1 273.4 440.7 276 441C278.6 441.3 281.3 441 285 439.6C288.7 438.2 293.7 435.9 298 432.5C302.3 429.1 306.6 423.2 311 419C315.4 414.8 320.7 411.6 324.4 407C328.1 402.4 330.1 397.6 333 391.4C335.9 385.1 339.4 374.8 342 369.5C344.6 364.2 346.2 361.6 348.5 359.6C350.8 357.7 353.4 356.9 356 357.8C358.6 358.7 361 361.6 363.8 365C366.6 368.4 369.7 372.9 372.6 378C375.5 383.1 378.5 389.6 381.4 395.8C384.3 402.1 386.9 408.8 390 415.5C393.1 422.2 397.2 430.1 400 436C402.8 441.9 404.4 447.1 406.6 450.8C408.8 454.6 410.8 457.1 413 458.5C415.2 459.9 417.5 459.8 419.7 459C421.9 458.2 424.1 457.2 426.3 454C428.5 450.8 430.7 444.8 432.9 439.9C435.1 435 437.7 428.6 439.5 424.5C441.3 420.4 441.6 419 443.8 415.5C446 412 449.7 406.3 452.6 403.4C455.5 400.5 458.1 399.4 461.4 398C464.7 396.6 469 396 472.3 395.3C475.6 394.6 478.4 395 481 393.6C483.6 392.2 485.5 390.6 487.7 387C489.9 383.4 492 376.4 494.2 371.7C496.4 366.9 498.2 362.5 500.8 358.5C503.4 354.5 506.7 350.2 509.6 347.5C512.5 344.8 516 343 518.4 342C520.8 341 521.6 340.8 523.8 341.4C526 342 528.8 343.5 531.5 345.4C534.2 347.3 537.4 349.7 540.3 353C543.2 356.3 546.1 360.8 549 365C551.9 369.2 555.2 374.3 557.8 378C560.4 381.7 562.2 384.8 564.4 387C566.6 389.2 569.2 391.2 571 391.4C572.8 391.6 573.5 391.3 575.3 388C577.1 384.7 579.8 378.4 582 371.7C584.2 364.9 586.3 355.6 588.5 347.5C590.7 339.4 592.8 330.7 595 323.4C597.2 316.1 599.4 308.8 601.6 303.7C603.8 298.6 606.2 295.2 608.2 292.8C610.2 290.4 611.9 289 613.7 289C615.5 289 617.2 290.7 619.2 292.8C621.2 294.9 623.6 297.9 625.8 301.5C628 305.1 630.1 310.7 632.3 314.7C634.5 318.7 637.1 323.2 638.9 325.6C640.7 328 641.1 328 643.3 329C645.5 330 648.7 331 652 331.8C655.3 332.6 659.3 333.8 663 334C666.7 334.2 671.1 333.8 674 333.3C676.9 332.8 678.3 330.4 680.5 331C682.7 331.6 684.8 334 687 336.6C689.2 339.2 691.5 343.2 693.7 346.5C695.9 349.8 698.1 353.4 700.3 356.3C702.5 359.2 704.2 360.4 706.8 364C709.3 367.6 713 373.6 715.6 378C718.2 382.4 720 386.8 722.2 390.3C724.4 393.8 726.2 396.9 728.8 399C731.3 401.1 735 403.3 737.5 402.8C740 402.3 741.8 399 744 395.8C746.2 392.6 748.5 386.9 750.7 383.7C752.9 380.5 755.1 377.8 757.3 376.5C759.5 375.2 761.2 375 763.8 376C766.3 377 769.7 379.5 772.6 382.6C775.5 385.7 778.5 390.7 781.4 394.7C784.3 398.7 786.9 402.1 790 406.7C793.1 411.2 797.2 417.1 800 422C802.8 426.9 804.4 431.8 806.6 436C808.8 440.2 810.8 444.8 813 447.5C815.2 450.2 817.1 451.2 819.7 452C822.3 452.8 825.2 452.5 828.5 452.4C831.8 452.3 836.2 452.8 839.5 451.6C842.8 450.4 845.4 447.3 848 445.2C850.6 443.1 852.3 440.6 855 438.8C857.7 437 861.2 435.7 864 434.2C866.8 432.7 869.3 431 871.7 430C874.1 429 875.5 428.6 878.2 428C880.9 427.4 884.7 426.7 887.8 426.3C890.9 425.9 894.3 426.1 896.8 425.6C899.3 425.2 901 424.6 902.7 423.6C904.4 422.6 905.6 421.2 906.9 419.7C908.2 418.1 909.2 416.5 910.5 414.3C911.8 412.1 913.4 408.8 914.7 406.6C916 404.4 916.7 404.3 918.4 401C920.1 397.7 922.8 391.5 925 387C927.2 382.5 929.3 378.2 931.5 373.8C933.7 369.4 935.8 365.2 938 360.7C940.2 356.1 942.5 351.4 944.7 346.5C946.9 341.6 948.8 335.9 951 331C953.2 326.1 955.6 321.6 957.8 316.9C960 312.2 962.2 307 964.4 302.6C966.6 298.2 969 293.8 971 290.6C973 287.4 974.6 285 976.4 283.5C978.2 282 980 281.4 982 281.4C984 281.4 986 282.5 988.5 283.5C991 284.5 994.4 286.8 997.3 287.3C1000.2 287.8 1003.5 286.2 1006 286.6C1008.5 287 1010.4 287.4 1012.6 289.5C1014.8 291.6 1017 295.1 1019.2 299.3C1021.4 303.5 1023.6 309.6 1025.8 314.7C1028 319.8 1030.1 324.9 1032.3 330C1034.5 335.1 1036.7 341 1038.9 345.4C1041.1 349.8 1043.3 353.4 1045.5 356.3C1047.7 359.2 1049.8 361.5 1052 362.9C1054.2 364.3 1056.4 365 1058.6 364.6C1060.8 364.2 1063 362.8 1065.2 360.7C1067.4 358.6 1069.6 355.3 1071.8 352C1074 348.7 1076.2 344.3 1078.4 341C1080.6 337.7 1082.7 335.5 1084.9 332.2C1087.1 328.9 1089.3 324.3 1091.5 321C1093.7 317.7 1095.5 315 1098 312.5C1100.5 310 1103.9 307.6 1106.8 306C1109.7 304.4 1113.1 303 1115.6 302.6C1118.1 302.2 1119.8 302.4 1122 303.7C1124.2 305 1126.6 307.9 1128.8 310.3C1131 312.7 1133.3 316.4 1135.3 318C1137.3 319.6 1139 320.6 1140.8 320C1142.6 319.4 1144.3 316.7 1146.3 314.7C1148.3 312.7 1150.4 309.5 1152.9 308C1155.5 306.5 1158.7 306.2 1161.6 305.5C1164.5 304.8 1167.8 304.3 1170.4 304C1173 303.7 1174.4 303.2 1177 303.7C1179.6 304.2 1182.9 305.4 1185.8 307C1188.7 308.6 1192.1 311.7 1194.5 313.6C1196.9 315.5 1197.2 318 1200 318.5C1202.8 319 1207.3 317.3 1211 316.4C1214.7 315.5 1218.7 314.3 1222 313C1225.3 311.7 1228.2 310.4 1230.7 308.5C1233.2 306.6 1235.1 305.2 1237.3 301.5C1239.5 297.8 1241.6 291.8 1243.8 286C1246 280.2 1248.2 273.4 1250.4 266.5C1252.6 259.6 1255.2 251.2 1257 244.5C1258.8 237.8 1259.2 232.8 1261.4 226.5C1263.6 220.2 1267.1 213.6 1270 206.7C1272.9 199.8 1276.4 191.9 1279 184.8C1281.6 177.7 1283.3 171 1285.5 164C1287.7 157 1289.8 148.8 1292 143C1294.2 137.2 1296.4 133 1298.6 129C1300.8 125 1303 121.4 1305.2 119C1307.4 116.6 1309.6 115.4 1311.8 114.7C1314 114 1316.4 112.9 1318.4 114.7C1320.4 116.5 1322 121.2 1323.8 125.6C1325.6 130 1327.6 135.5 1329.3 141C1331 146.5 1332.2 153 1333.7 158.5C1335.2 164 1336.5 169.1 1338 173.8C1339.5 178.6 1341 182.8 1342.5 187C1344 191.2 1345.3 195.7 1346.8 199C1348.2 202.3 1349.7 204.7 1351.2 206.7C1352.7 208.7 1354 209.9 1355.6 211C1357.2 212.1 1358.8 213.4 1361 213.3C1363.2 213.2 1366.4 211.8 1368.8 210.7C1371.2 209.6 1373.1 208.1 1375.3 206.7C1377.5 205.3 1379.8 202.8 1382 202.3C1384.2 201.9 1386.5 202.9 1388.5 204C1390.5 205.1 1392.3 207.3 1394 209C1395.7 210.7 1397.1 211.2 1398.4 214.4C1399.7 217.6 1400.7 222.6 1402 228C1403.3 233.4 1404.6 239.2 1406 246.7C1407.4 254.2 1408.8 264.2 1410.4 273C1412.1 281.8 1414.1 290.9 1415.9 299.3C1417.7 307.7 1419.4 315.7 1421.4 323.4C1423.4 331.1 1425.8 337.7 1428 345.4C1430.2 353.1 1432.3 362.2 1434.5 369.5C1436.7 376.8 1438.8 383.5 1441 389C1443.2 394.5 1445.5 398.9 1447.7 402.3C1449.9 405.7 1451.7 407.6 1454.2 409.4C1456.8 411.2 1461.5 412.3 1463 412.9" fill="none" stroke="#c76cd6" stroke-width="2" stroke-linejoin="round"/>
<path d="M10 401.5H1764" stroke="#cfcfd6" stroke-width="1" stroke-dasharray="1 2" fill="none" shape-rendering="crispEdges"/>
</g>
<rect x="11" y="666" width="1813" height="1.1" fill="#e8e8e8"/>
<g clip-path="url(#cpMacd)">
<polygon points="10.5,773.5 10.5,802.9 14,804 18.8,801.6 23.8,802.9 28.8,807.9 35,819 40,824 51.4,816.7 56.4,823 61.4,840.5 66.4,850.5 71.4,861.8 76.5,870.6 82.7,881.9 87.7,886.9 94,887.6 99,884.4 104,875.6 109,868 114,858 120.3,850.5 125.3,843 130.4,838.5 136.6,835.5 141.6,831.7 148,833 152.9,831.7 158,825.5 163,820.4 169.2,811.7 174.2,807.9 180.5,816.7 185.5,820.4 190.5,824.2 198,821.7 205.6,820.4 211.8,806.7 216.8,812.9 221.9,818.7 230.6,816.7 243.2,816.7 249.4,826.7 254.4,836.7 259.5,838.5 265.7,833 274.5,828 282,817.9 287,815.9 298.3,806.7 303.3,800.4 310.9,796.6 318.4,791.6 325.9,785.3 330.9,772.8 334.7,762.8 340.9,756.5 345.9,753.5 351,757.8 357.2,764 362.2,772.8 367.3,778.3 372.3,779 377.3,785.3 383.6,789 393.6,794 399.8,801.6 409.9,808.4 417.4,799 426.2,789 432.4,777.8 437.4,772.8 442.5,767.8 451.2,769.5 460,770.3 465,769.8 470,767 475,766.5 480,764.8 485,756.5 490,747.7 496.4,742.2 506.4,739 511.4,741 518.9,743.5 525.2,747.7 530.2,751.5 535.2,753.3 540.2,756 546.5,761.5 555.3,772.3 560.3,775.3 565.8,779.8 571.6,771.6 576.6,761.5 581.6,745.2 586.6,739.7 591.6,734.7 597.9,727.2 603.4,726.9 607.9,732.7 612.9,740.2 619.2,749 624.2,752.8 630.5,759 635.5,762.8 640.5,763.5 645.5,757.3 650.5,759.8 655.5,762.8 660.6,763.5 668,765.8 679.4,765.8 684.4,770.3 689.4,780.3 694.4,786.6 700.7,791 709.4,792.9 715.7,797.4 722,804 727,805.4 733.2,801.6 739.5,795.4 744.5,787.9 749.5,781.6 754.6,779 760.8,784 769.6,793.4 778.4,796.6 790.9,802 798.4,805.4 806,810.4 813,815 819.7,809 826,804.9 834.8,802.9 841,799.9 847.3,794.6 852.3,789.9 856,788.6 861,790.4 871,782.8 881,782 887.4,779.8 893.7,779 900,776.6 905,770.3 910,762.8 915,756.5 920,752.8 925,748.2 930,745.2 936.3,739 941.3,734.7 947,727.7 952.6,725.2 957.6,720.7 963,716.4 968.9,713 973.9,710 978.9,716.4 985.2,724.7 990.2,729.7 995.2,730.2 1000.2,727.7 1006.5,730.7 1012.8,737.7 1017.8,746.5 1022.8,755.3 1027.8,766.5 1032.8,777.8 1039,783.6 1044,780.8 1049,783.3 1055.4,783.6 1060.4,779 1065.4,774 1070.4,768.3 1076,765.8 1081.7,768.5 1086.7,762.8 1091.7,756.5 1098,759 1104.3,761.5 1109.3,760.3 1114.3,757.3 1119.3,761.5 1124.3,768.3 1130.6,770.8 1135,774.8 1140.6,767.8 1145.6,759 1151,754 1156.9,761.5 1161.9,762.8 1168.2,764 1174.4,763.3 1179.5,767.3 1185.7,770.3 1193.3,776.6 1199.5,774 1204.5,768.5 1210.8,769 1223.3,768.3 1230.9,765.3 1237,760.3 1242,746.5 1247.2,734 1253.4,726.4 1258.4,720.7 1266,718.9 1274.7,717.2 1279.7,711.4 1286,695.8 1291,690.8 1296,691.3 1302.3,694.6 1308.6,696.4 1316,702.6 1319.9,713.9 1323.6,730.2 1328.6,744 1333.6,757.3 1339.9,762.3 1344.9,763.5 1349.9,766.5 1358.7,765.3 1365,762.8 1370,765.3 1376.3,769 1381.3,769 1385,775.3 1388.8,780.3 1393.8,784 1398.8,789 1401.3,805.4 1405,823 1408.8,839.2 1415,848 1420,846.8 1427.6,850.5 1435,855.5 1441.4,860.5 1447.7,860.5 1452.7,857.5 1457.7,854.8 1463,854.3 1463,773.5" fill="#65676d"/>
<path d="M10.5 796C12.7 796.5 20.3 797.8 23.8 799C27.3 800.2 28.6 801.1 31.3 803C34 804.9 37.3 808.7 40 810.4C42.7 812.1 45.1 812.6 47.6 813.4C50.1 814.2 52.1 813.2 55 815.4C57.9 817.6 61.8 822.1 65.2 826.7C68.6 831.3 71.5 837 75.2 843C79 849 83.9 858.2 87.7 863C91.5 867.8 94.9 870 97.8 871.8C100.7 873.6 103 873.6 105.3 873.6C107.6 873.6 109.1 873.3 111.6 871.8C114.1 870.2 117.2 867.2 120.3 864.3C123.4 861.4 126.6 857.6 130.4 854.3C134.2 851 138.7 847 142.9 844.3C147.1 841.6 151.6 840.3 155.4 838C159.2 835.7 162.4 833.1 165.5 830.5C168.6 827.9 170.9 824 174.2 822.4C177.5 820.8 181.9 821 185.5 820.9C189.1 820.8 192.2 821.7 195.5 821.7C198.8 821.7 202.2 821.7 205.6 820.9C208.9 820.1 211.4 817.4 215.6 816.7C219.8 816 225.8 816.6 230.6 816.7C235.4 816.8 240.6 816.5 244.4 817.4C248.2 818.3 250.5 820.8 253.2 822.4C255.9 824 258 826.2 260.7 827.2C263.4 828.2 266.6 828.6 269.5 828.5C272.4 828.4 275.2 827.7 278.3 826.7C281.4 825.7 285 824.1 288.3 822.4C291.6 820.7 295 819 298.3 816.7C301.6 814.4 305 810.9 308.3 808.4C311.6 805.9 315.5 803.6 318.4 801.6C321.3 799.6 323 799.5 325.9 796.6C328.8 793.7 332.8 788 335.9 784C339 780 342.2 775.4 344.7 772.8C347.2 770.2 348.7 769.3 351 768.5C353.3 767.7 356 767.4 358.5 767.8C361 768.2 363.1 769.8 366 770.8C368.9 771.8 372.7 772.4 376 774C379.3 775.6 382.7 778.3 386 780.3C389.3 782.3 393.1 784.1 396 786C398.9 787.9 401.3 789.8 403.6 791.6C405.9 793.4 407.6 795.5 409.9 796.6C412.2 797.7 414.7 798.6 417.4 798.4C420.1 798.2 423.1 797.4 426.2 795.4C429.3 793.4 432.9 789.2 436.2 786.6C439.5 784 443.3 781.5 446.2 779.8C449.1 778.1 451.4 777.4 453.7 776.6C456 775.8 457.3 775.8 460 775C462.7 774.2 466.7 772.7 470 771.6C473.3 770.5 477.1 769.8 480 768.3C482.9 766.8 485.1 764.8 487.6 762.8C490.1 760.8 492.1 758.7 495 756.5C497.9 754.3 502.1 751.3 505 749.7C507.9 748.1 509.7 747.5 512.6 747C515.6 746.5 519.4 746.2 522.7 746.5C526.1 746.8 529.4 748 532.7 749C536 750 538.9 750.7 542.7 752.8C546.5 754.9 551.5 758.9 555.3 761.5C559.1 764.1 562.4 766.9 565.3 768.3C568.2 769.6 570.3 770.3 572.8 769.6C575.3 768.9 577.4 766.7 580.3 764C583.2 761.3 587.5 756.6 590.4 753.5C593.3 750.4 595.6 747.4 597.9 745.2C600.2 743 601.9 741.2 604 740.2C606.1 739.2 608.1 738.8 610.4 739C612.7 739.2 615 740.1 617.9 741.5C620.8 742.9 625.1 745.4 628 747.2C630.9 749 633.2 750.9 635.5 752.3C637.8 753.6 639.5 754.7 641.8 755.3C644.1 755.9 646.6 755.4 649.3 756C652 756.6 654.5 758 658 759C661.5 760 666.8 761.2 670.6 762C674.4 762.8 677.7 763 680.6 764C683.5 765 685.5 766.5 688 768.3C690.5 770.1 693.1 772.9 695.6 774.8C698.1 776.7 699.9 777.7 703.2 779.8C706.6 781.9 712 784.8 715.7 787.3C719.5 789.8 722.4 793.2 725.7 794.9C729.1 796.6 732.4 797.6 735.8 797.4C739.1 797.1 742.5 795 745.8 793.4C749.1 791.8 752.9 789 755.8 787.9C758.7 786.8 759.9 786.6 763.3 787C766.6 787.4 771.3 788.9 775.9 790.4C780.5 791.9 786.3 794.1 790.9 796C795.5 797.9 799.6 799.8 803.4 801.6C807.2 803.4 810.6 805.7 813.5 806.7C816.4 807.7 818.1 807.6 821 807.4C823.9 807.2 827.7 806 831 805.4C834.3 804.8 837.7 804.7 841 803.6C844.3 802.5 847.7 800.4 851 799C854.3 797.6 857.2 796.9 861 795.4C864.8 793.9 869.4 791.6 873.6 789.9C877.8 788.2 882 786.6 886.2 785.3C890.4 784 895 783.7 898.7 782C902.5 780.3 905.2 777.9 908.7 775.3C912.2 772.7 916.5 769.2 920 766.5C923.5 763.8 926.7 761.7 930 759C933.3 756.3 936.7 753.3 940 750.2C943.3 747.1 946.7 743.3 950 740.2C953.3 737.1 956.9 734 960 731.4C963.1 728.8 966.4 726.4 968.9 724.7C971.4 723 973.1 722 975.2 721.4C977.3 720.8 978.9 720.5 981.4 720.9C983.9 721.3 987.1 723.1 990.2 723.9C993.3 724.7 996.9 725.1 1000.2 725.9C1003.5 726.6 1007.3 727 1010.2 728.4C1013.1 729.8 1015.5 732.1 1017.8 734C1020.1 735.9 1021.9 737.1 1024 739.7C1026.1 742.3 1028 746.5 1030.3 749.7C1032.6 752.9 1035.3 756.2 1037.8 759C1040.3 761.8 1042.8 764.3 1045.3 766.5C1047.8 768.7 1050.4 770.6 1052.9 772C1055.4 773.4 1057.9 774.3 1060.4 774.6C1062.9 774.9 1065.4 774.2 1067.9 773.6C1070.4 773 1072.9 771.6 1075.4 771C1077.9 770.4 1080.1 770.7 1083 769.8C1085.9 768.9 1089.7 766.8 1093 765.8C1096.3 764.8 1099.2 764.2 1103 763.5C1106.8 762.8 1111.7 761.5 1115.5 761.5C1119.3 761.5 1122.2 762.5 1125.6 763.5C1128.9 764.5 1132.9 766.7 1135.6 767.3C1138.3 767.9 1139.4 768 1141.9 767.3C1144.4 766.5 1147.5 763.6 1150.6 762.8C1153.7 762 1156.9 762.4 1160.7 762.3C1164.5 762.2 1169.5 761.9 1173.2 762.3C1177 762.7 1179.4 763.5 1183.2 764.8C1187 766 1192 768.9 1195.8 769.8C1199.6 770.7 1201.6 770.3 1205.8 770.3C1210 770.2 1216.6 769.9 1220.8 769.5C1225 769.1 1228.2 768.4 1230.9 767.8C1233.6 767.2 1234.9 767.1 1237 765.8C1239.1 764.5 1240.7 763 1243.4 759.8C1246.1 756.6 1250.1 750.6 1253.4 746.5C1256.7 742.4 1260.1 738.3 1263.4 735.2C1266.8 732.1 1270.6 729.9 1273.5 727.7C1276.4 725.5 1278.5 724.8 1281 722.2C1283.5 719.6 1286.2 714.6 1288.5 712C1290.8 709.4 1292.3 708 1294.8 706.4C1297.3 704.8 1300.9 703.5 1303.6 702.6C1306.3 701.7 1308.5 700.8 1311 700.9C1313.5 701 1316.3 701.2 1318.6 703C1320.9 704.8 1322.8 708.1 1324.9 711.4C1327 714.7 1328.7 718.5 1331 722.7C1333.3 726.9 1336.1 732.6 1338.6 736.5C1341.1 740.4 1343.5 743.1 1346.2 746C1348.9 748.9 1352.1 752 1355 754C1357.9 756 1361 756.8 1363.7 757.8C1366.4 758.8 1368.5 759.4 1371.2 760.3C1373.9 761.2 1378.1 762.4 1380 763C1381.9 763.6 1380.8 763 1382.5 764C1384.2 765 1387.5 767 1390 769C1392.5 771 1395.3 772.5 1397.6 775.8C1399.9 779.1 1401.7 784.1 1403.8 789C1405.9 793.9 1407.7 800.6 1410 805.4C1412.3 810.2 1415.1 814.2 1417.6 818C1420.1 821.8 1422.3 824.9 1425 828C1427.7 831.1 1431 833.8 1433.9 836.7C1436.9 839.6 1440 843.3 1442.7 845.5C1445.4 847.7 1447.9 848.9 1450.2 850C1452.5 851.1 1454.4 851.5 1456.5 852C1458.6 852.5 1461.9 852.8 1463 853" fill="none" stroke="#f0323f" stroke-width="1.2" stroke-linejoin="round"/>
<rect x="11" y="773" width="1753" height="1.15" fill="#f4f4f4"/>
</g>
<text class="lg" x="18" y="685.8" textLength="104.8" lengthAdjust="spacingAndGlyphs">MACD (9, 17, close)</text>
<rect x="1763" y="28" width="1" height="915" fill="#5a5a5a"/>
<rect x="11" y="908" width="1813" height="1" fill="#5a5a5a"/>
<g clip-path="url(#cpAxis)">
<text class="ax" x="1774.6" y="66.8" textLength="38.5" lengthAdjust="spacingAndGlyphs">37.50</text>
<text class="ax" x="1774.6" y="114" textLength="38.5" lengthAdjust="spacingAndGlyphs">35.00</text>
<text class="ax" x="1774.6" y="161.2" textLength="38.5" lengthAdjust="spacingAndGlyphs">32.50</text>
<text class="ax" x="1774.6" y="208.4" textLength="38.5" lengthAdjust="spacingAndGlyphs">30.00</text>
<text class="ax" x="1774.6" y="255.5" textLength="38.5" lengthAdjust="spacingAndGlyphs">27.50</text>
<text class="ax" x="1774.6" y="302.7" textLength="38.5" lengthAdjust="spacingAndGlyphs">25.00</text>
<text class="ax" x="1774.6" y="349.9" textLength="38.5" lengthAdjust="spacingAndGlyphs">22.50</text>
<text class="ax" x="1774.6" y="397.1" textLength="38.5" lengthAdjust="spacingAndGlyphs">20.00</text>
<text class="ax" x="1774.6" y="444.3" textLength="38.5" lengthAdjust="spacingAndGlyphs">17.50</text>
<text class="ax" x="1774.6" y="491.5" textLength="38.5" lengthAdjust="spacingAndGlyphs">15.00</text>
<text class="ax" x="1774.6" y="538.6" textLength="38.5" lengthAdjust="spacingAndGlyphs">12.50</text>
<text class="ax" x="1774.6" y="585.8" textLength="38.5" lengthAdjust="spacingAndGlyphs">10.00</text>
<text class="ax" x="1774.6" y="633" textLength="30.8" lengthAdjust="spacingAndGlyphs">7.50</text>
<text class="ax" x="1774.2" y="690.8" textLength="30.8" lengthAdjust="spacingAndGlyphs">2.00</text>
<text class="ax" x="1774.2" y="734.5" textLength="30.8" lengthAdjust="spacingAndGlyphs">1.00</text>
<text class="ax" x="1774.2" y="778.2" textLength="30.8" lengthAdjust="spacingAndGlyphs">0.00</text>
<text class="ax" x="1774.2" y="821.9" textLength="39.3" lengthAdjust="spacingAndGlyphs">−1.00</text>
<text class="ax" x="1774.2" y="865.6" textLength="39.3" lengthAdjust="spacingAndGlyphs">−2.00</text>
<text class="ax" x="1774.2" y="909.3" textLength="39.3" lengthAdjust="spacingAndGlyphs">−3.00</text>
</g>
<rect x="1764" y="909" width="60" height="34" fill="#0f0f0f"/>
<path d="M1764 41.1h54a2 2 0 0 1 2 2v18.8a2 2 0 0 1 -2 2h-54z" fill="#ffeb3b"/>
<text x="1774.6" y="57.4" font-size="14.6" fill="#141414" textLength="38.5" lengthAdjust="spacingAndGlyphs">38.00</text>
<path d="M1764 78.9h54a2 2 0 0 1 2 2v18.8a2 2 0 0 1 -2 2h-54z" fill="#ffeb3b"/>
<text x="1774.6" y="95.2" font-size="14.6" fill="#141414" textLength="38.5" lengthAdjust="spacingAndGlyphs">36.00</text>
<path d="M1764 160.1h54a2 2 0 0 1 2 2v18.8a2 2 0 0 1 -2 2h-54z" fill="#ffeb3b"/>
<text x="1774.6" y="176.4" font-size="14.6" fill="#141414" textLength="38.5" lengthAdjust="spacingAndGlyphs">31.70</text>
<path d="M1764 305.1h54a2 2 0 0 1 2 2v18.8a2 2 0 0 1 -2 2h-54z" fill="#ffeb3b"/>
<text x="1774.6" y="321.4" font-size="14.6" fill="#141414" textLength="38.5" lengthAdjust="spacingAndGlyphs">24.00</text>
<path d="M1764 358.1h54a2 2 0 0 1 2 2v18.8a2 2 0 0 1 -2 2h-54z" fill="#ffeb3b"/>
<text x="1774.6" y="374.4" font-size="14.6" fill="#141414" textLength="38.5" lengthAdjust="spacingAndGlyphs">21.20</text>
<path d="M1764 413.1h54a2 2 0 0 1 2 2v18.8a2 2 0 0 1 -2 2h-54z" fill="#ffeb3b"/>
<text x="1774.6" y="429.4" font-size="14.6" fill="#141414" textLength="38.5" lengthAdjust="spacingAndGlyphs">19.00</text>
<path d="M1764 472.1h54a2 2 0 0 1 2 2v18.8a2 2 0 0 1 -2 2h-54z" fill="#ffeb3b"/>
<text x="1774.6" y="488.4" font-size="14.6" fill="#141414" textLength="38.5" lengthAdjust="spacingAndGlyphs">15.20</text>
<path d="M1764 389.9h54a2 2 0 0 1 2 2v18.8a2 2 0 0 1 -2 2h-54z" fill="#4caf50"/>
<text x="1774.6" y="406.2" font-size="14.6" fill="#ffffff" font-weight="bold" textLength="38.5" lengthAdjust="spacingAndGlyphs">19.52</text>
<text class="tm" x="44" y="930.3" textLength="24" lengthAdjust="spacingAndGlyphs">2月</text>
<text class="tm" x="194.3" y="930.3" textLength="24" lengthAdjust="spacingAndGlyphs">3月</text>
<text class="tm" x="361" y="930.3" textLength="24" lengthAdjust="spacingAndGlyphs">4月</text>
<text class="tm" x="521.7" y="930.3" textLength="24" lengthAdjust="spacingAndGlyphs">5月</text>
<text class="tm" x="688" y="930.3" textLength="24" lengthAdjust="spacingAndGlyphs">6月</text>
<text class="tm" x="849" y="930.3" textLength="24" lengthAdjust="spacingAndGlyphs">7月</text>
<text class="tm" x="1015.3" y="930.3" textLength="24" lengthAdjust="spacingAndGlyphs">8月</text>
<text class="tm" x="1182.3" y="930.3" textLength="24" lengthAdjust="spacingAndGlyphs">9月</text>
<text class="tm" x="1339.1" y="930.3" textLength="32.6" lengthAdjust="spacingAndGlyphs">10月</text>
<text class="tm" x="1505.7" y="930.3" textLength="32.6" lengthAdjust="spacingAndGlyphs">11月</text>
<text class="tm" x="1666.7" y="930.3" textLength="32.6" lengthAdjust="spacingAndGlyphs">12月</text>
<g fill="#e4e4e4">
<path d="M12 966h12.2v15.2h-6.4v-8.4H12z"/>
<circle cx="28.2" cy="969.3" r="3.2"/>
<path d="M33.8 966h8l-6.4 15.2h-7.6z"/>
</g>
<text x="49" y="981" font-size="20.5" font-weight="bold" fill="#e4e4e4" textLength="120.5" lengthAdjust="spacingAndGlyphs">TradingView</text>
</svg>
</body></html>
